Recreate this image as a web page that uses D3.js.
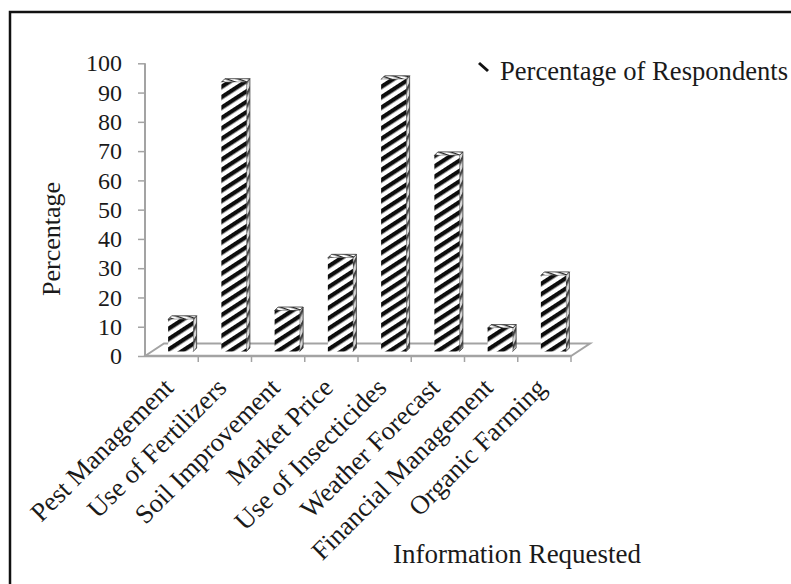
<!DOCTYPE html>
<html>
<head>
<meta charset="utf-8">
<script src="https://cdn.jsdelivr.net/npm/d3@7"></script>
<style>
  html, body { margin: 0; padding: 0; background: #fff; }
  svg { display: block; }
  text { font-family: "Liberation Serif", "Times New Roman", serif; fill: #1a1a1a; }
</style>
</head>
<body>
<svg id="chart" width="791" height="584"></svg>
<script>
// Information requested by respondents (percentage)
const categories = [
  "Pest Management", "Use of Fertilizers", "Soil Improvement", "Market Price",
  "Use of Insecticides", "Weather Forecast", "Financial Management", "Organic Farming"
];
const percentages = [11, 92, 14, 32, 93, 67, 8, 26];
const yTicks = [0, 10, 20, 30, 40, 50, 60, 70, 80, 90, 100];
const seriesName = "Percentage of Respondents";
const xTitle = "Information Requested";
const yTitle = "Percentage";

const svg = d3.select("#chart");

// plot geometry
const left = 145, right = 571, floorY = 356;
const floorDepth = { dx: 19, dy: -12.5 };   // back edge of the 3-D floor
const barShift = { dx: 9, dy: -4.5 };       // columns sit mid-way into the floor
const barDepth = { dx: 3.5, dy: -3.5 };     // thickness of each column

const x = d3.scaleBand().domain(categories).range([left, right])
  .paddingInner(0.53).paddingOuter(0.265);
const y = d3.scaleLinear().domain([0, 100]).range([floorY, 63.3]);
const step = x.step();

// hatch patterns
const defs = svg.append("defs");
function hatch(id, angle, stripe, gap, color, bg) {
  const p = defs.append("pattern").attr("id", id)
    .attr("patternUnits", "userSpaceOnUse")
    .attr("width", 20).attr("height", stripe + gap)
    .attr("patternTransform", `rotate(${angle})`);
  p.append("rect").attr("width", 20).attr("height", stripe + gap).attr("fill", bg);
  p.append("rect").attr("y", 0).attr("width", 20).attr("height", stripe).attr("fill", color);
}
hatch("hatchFront", -33, 4.3, 4.4, "#111", "#fff");
hatch("hatchSide", -62, 2.4, 3.4, "#444", "#d8d8d8");
hatch("hatchTop", 20, 1.4, 2.6, "#222", "#fff");

// soften the columns slightly
const blur = defs.append("filter").attr("id", "soft");
blur.append("feGaussianBlur").attr("stdDeviation", 0.45);

// outer frame
svg.append("rect").attr("x", 10).attr("y", 12).attr("width", 800).attr("height", 600)
  .attr("fill", "none").attr("stroke", "#111").attr("stroke-width", 2.5);

const axisColor = "#a3a3a3";
const g = svg.append("g");

// floor of the 3-D plot area
g.append("path")
  .attr("d", `M${left},${floorY} L${left + floorDepth.dx},${floorY + floorDepth.dy} L${right + floorDepth.dx},${floorY + floorDepth.dy} L${right},${floorY} Z`)
  .attr("fill", "none").attr("stroke", axisColor).attr("stroke-width", 2);

// vertical axis with ticks
const yAxis = d3.axisLeft(y).tickValues(yTicks).tickSize(7).tickPadding(16);
const ya = g.append("g").attr("transform", `translate(${left},0)`).call(yAxis);
ya.select(".domain").attr("stroke", axisColor).attr("stroke-width", 2)
  .attr("d", `M0,${y(100)}V${floorY}`);
ya.selectAll(".tick line").attr("stroke", axisColor).attr("stroke-width", 1.5);
ya.selectAll(".tick text").style("font-family", "Liberation Serif")
  .style("font-size", "24px").attr("fill", "#1a1a1a");

// horizontal axis ticks at category boundaries
const bounds = d3.range(1, categories.length + 1).map(i => left + i * step);
g.selectAll(".xtick").data(bounds).join("line")
  .attr("x1", d => d).attr("x2", d => d)
  .attr("y1", floorY).attr("y2", floorY + 6)
  .attr("stroke", axisColor).attr("stroke-width", 1.5);
g.append("line").attr("x1", left).attr("x2", right).attr("y1", floorY).attr("y2", floorY)
  .attr("stroke", axisColor).attr("stroke-width", 2.5);

// columns
const bars = g.append("g").attr("filter", "url(#soft)")
  .selectAll(".bar").data(categories.map((c, i) => ({ c, v: percentages[i] })))
  .join("g").attr("class", "bar");
bars.each(function (d) {
  const sel = d3.select(this);
  const x0 = x(d.c) + barShift.dx, x1 = x0 + x.bandwidth();
  const yb = y(0) + barShift.dy, yt = y(d.v) + barShift.dy;
  // right side face
  sel.append("path")
    .attr("d", `M${x1},${yb} L${x1 + barDepth.dx},${yb + barDepth.dy} L${x1 + barDepth.dx},${yt + barDepth.dy} L${x1},${yt} Z`)
    .attr("fill", "url(#hatchSide)").attr("stroke", "#333").attr("stroke-width", 0.8);
  // top face
  sel.append("path")
    .attr("d", `M${x0},${yt} L${x0 + barDepth.dx},${yt + barDepth.dy} L${x1 + barDepth.dx},${yt + barDepth.dy} L${x1},${yt} Z`)
    .attr("fill", "url(#hatchTop)").attr("stroke", "#333").attr("stroke-width", 0.8);
  // front face
  sel.append("rect").attr("x", x0).attr("y", yt).attr("width", x1 - x0).attr("height", yb - yt)
    .attr("fill", "url(#hatchFront)");
});

// category labels, rotated
g.selectAll(".xlabel").data(categories).join("text")
  .attr("class", "xlabel")
  .attr("transform", d => `translate(${x(d) + x.bandwidth() / 2 - 1},${floorY + 29}) rotate(-45)`)
  .attr("text-anchor", "end")
  .attr("dominant-baseline", "middle")
  .style("font-size", "26.5px")
  .text(d => d);

// axis titles
svg.append("text")
  .attr("transform", `translate(60,239) rotate(-90)`)
  .attr("text-anchor", "middle")
  .style("font-size", "26px")
  .text(yTitle);
svg.append("text")
  .attr("x", 517).attr("y", 563)
  .attr("text-anchor", "middle")
  .style("font-size", "27px")
  .text(xTitle);

// legend
svg.append("line").attr("x1", 479).attr("y1", 63).attr("x2", 488).attr("y2", 71)
  .attr("stroke", "#111").attr("stroke-width", 3);
svg.append("text")
  .attr("x", 500).attr("y", 80)
  .style("font-size", "26.6px")
  .text(seriesName);
</script>
</body>
</html>
